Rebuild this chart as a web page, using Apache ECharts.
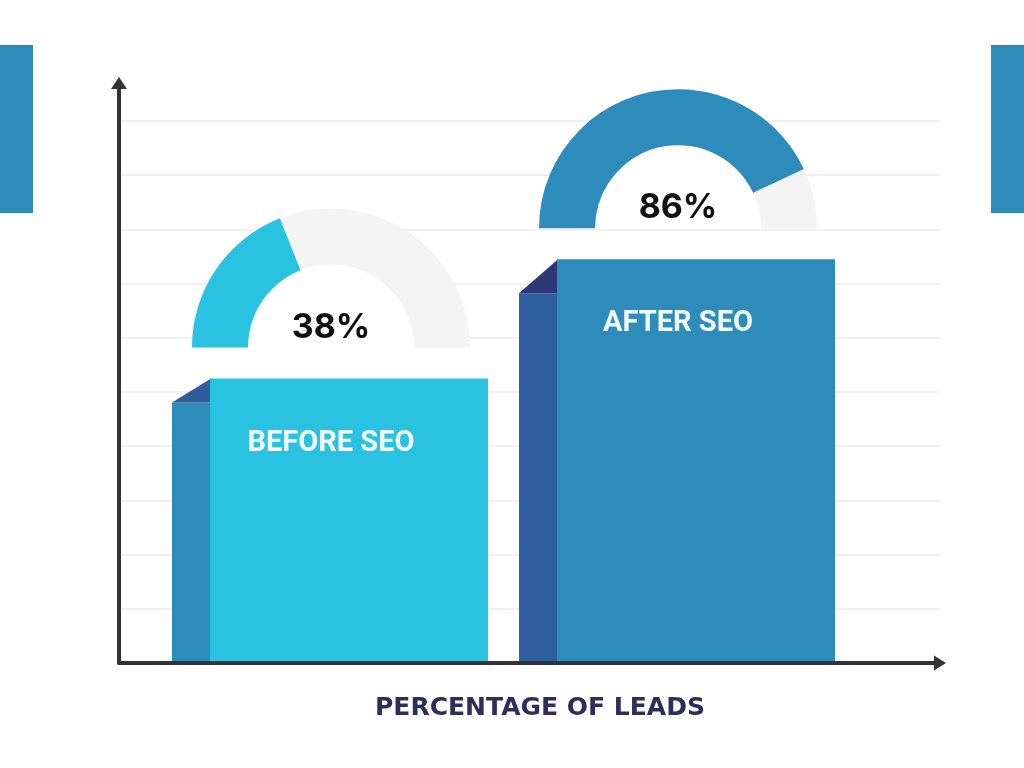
<!DOCTYPE html>
<html>
<head>
    <meta charset="utf-8">
    <script src="https://cdn.jsdelivr.net/npm/echarts@6/dist/echarts.min.js"></script>
    <style>html, body { margin: 0; padding: 0; background: #fff; }</style>
</head>
<body>
    <div id="main" style="width: 1024px;height:768px;"></div>
    <script type="text/javascript">

    var categories = ['BEFORE SEO', 'AFTER SEO'];
    var leads = [38, 86];
    var barHeights = [5.25, 7.45];
    var axisTitle = 'PERCENTAGE OF LEADS';

    var frontColors = ['#29c3e1', '#2e8cba'];
    var sideColors = ['#2d8cba', '#2f5f9f'];
    var cornerColors = ['#2f5c9a', '#2e3878'];
    var sideDrop = [24, 34];
    var yMax = 10.7;

    var myChart = echarts.init(document.getElementById('main'));

    function renderBar(params, api) {
        var i = params.dataIndex;
        var top = api.coord([api.value(0), api.value(1)]);
        var base = api.coord([api.value(0), 0]);
        var cx = top[0], y0 = top[1], y1 = base[1];
        var left = cx - 158, mid = cx - 120, right = cx + 158;
        var drop = sideDrop[i];
        return {
            type: 'group',
            children: [
                {type: 'rect', shape: {x: left, y: y0 + drop, width: mid - left + 1, height: y1 - y0 - drop},
                    style: {fill: sideColors[i]}},
                {type: 'polygon', shape: {points: [[left, y0 + drop], [mid + 1, y0], [mid + 1, y0 + drop]]},
                    style: {fill: cornerColors[i]}},
                {type: 'rect', shape: {x: mid, y: y0, width: right - mid, height: y1 - y0},
                    style: {fill: frontColors[i]}},
                {type: 'text', x: cx + 1, y: y0 + 65,
                    style: {text: categories[i], fill: '#f2fbff', fontSize: 29, fontWeight: 'bold',
                        fontFamily: 'Roboto', align: 'center', verticalAlign: 'middle'}}
            ]
        };
    }

    myChart.setOption({
        animation: false,
        grid: [
            {left: 119, right: 84, top: 83, bottom: 105},
            {left: 156.5, width: 694, top: 83, bottom: 105}
        ],
        xAxis: [
            {
                type: 'value', gridIndex: 0, min: 0, max: 1, z: 10,
                axisLine: {show: true, symbol: ['none', 'triangle'], symbolSize: [15, 12],
                    lineStyle: {color: '#333', width: 4}},
                axisTick: {show: false}, axisLabel: {show: false}, splitLine: {show: false}
            },
            {type: 'category', gridIndex: 1, data: categories, show: false}
        ],
        yAxis: [
            {
                type: 'value', gridIndex: 0, min: 0, max: yMax, interval: 1,
                axisLine: {show: true, symbol: ['none', 'triangle'], symbolSize: [16, 12],
                    lineStyle: {color: '#333', width: 4}},
                axisTick: {show: false}, axisLabel: {show: false},
                splitLine: {show: true, showMinLine: false, showMaxLine: false,
                    lineStyle: {color: '#f0f0f0', width: 2}}
            },
            {type: 'value', gridIndex: 1, min: 0, max: yMax, show: false}
        ],
        graphic: [
            {type: 'rect', left: 0, top: 45, shape: {width: 33, height: 168}, style: {fill: '#2e8cba'}},
            {type: 'rect', left: 991, top: 45, shape: {width: 33, height: 168}, style: {fill: '#2e8cba'}},
            {type: 'text', x: 540, y: 708,
                style: {text: axisTitle, fill: '#2d2f5a', fontSize: 25, fontWeight: 'bold',
                    fontFamily: 'DejaVu Sans', align: 'center', verticalAlign: 'middle'}}
        ],
        series: [
            {
                id: 'bars',
                type: 'custom',
                xAxisIndex: 1,
                yAxisIndex: 1,
                renderItem: renderBar,
                encode: {x: 0, y: 1},
                data: categories.map(function (c, i) { return [i, barHeights[i]]; })
            }
        ]
    });

    var hidden = {show: false};
    var gauges = [{id: 'bars'}];
    categories.forEach(function (c, i) {
        var p = myChart.convertToPixel({xAxisIndex: 1, yAxisIndex: 1}, [i, barHeights[i]]);
        var center = [p[0] + 1, p[1] - 31];
        gauges.push({
            id: 'hole' + i,
            type: 'gauge', center: center, radius: 84, startAngle: 180, endAngle: 0,
            axisLine: {lineStyle: {width: 84, color: [[1, '#ffffff']]}},
            pointer: hidden, axisTick: hidden, splitLine: hidden, axisLabel: hidden,
            anchor: hidden, title: hidden, detail: hidden,
            data: [{value: 0}]
        });
        gauges.push({
            id: 'gauge' + i,
            type: 'gauge', center: center, radius: 139, startAngle: 180, endAngle: 0,
            min: 0, max: 100,
            axisLine: {lineStyle: {width: 56, color: [[1, '#f4f4f4']]}},
            progress: {show: true, width: 56, itemStyle: {color: frontColors[i]}},
            pointer: hidden, axisTick: hidden, splitLine: hidden, axisLabel: hidden,
            anchor: hidden, title: hidden,
            detail: {formatter: '{value}%', offsetCenter: [0, -20], fontSize: 34,
                fontWeight: 'bold', fontFamily: 'Inter', color: '#111'},
            data: [{value: leads[i]}]
        });
    });

    myChart.setOption({series: gauges});

</script>
</body>
</html>
